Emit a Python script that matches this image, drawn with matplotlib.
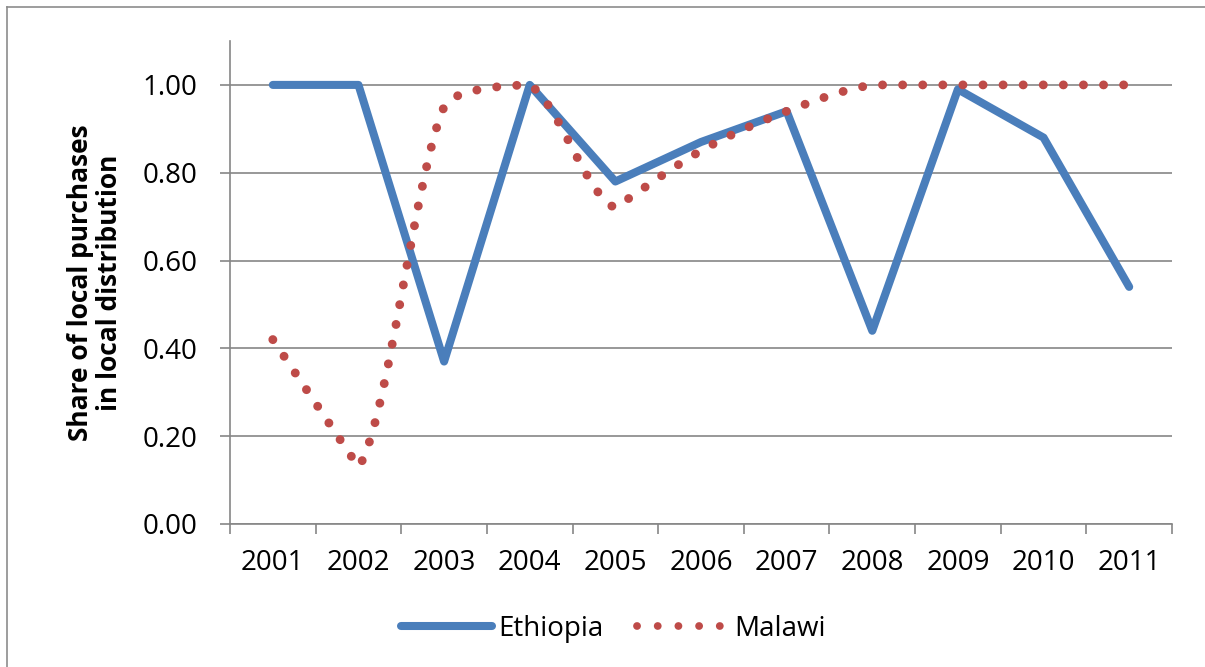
import matplotlib
matplotlib.use("Agg")
import matplotlib.pyplot as plt
from matplotlib.path import Path
from matplotlib.patches import PathPatch
from matplotlib.lines import Line2D

plt.rcParams['font.family'] = ['Open Sans', 'DejaVu Sans']

years = ['2001', '2002', '2003', '2004', '2005', '2006',
         '2007', '2008', '2009', '2010', '2011']
ethiopia = [1.00, 1.00, 0.37, 1.00, 0.78, 0.87, 0.94, 0.44, 0.99, 0.88, 0.54]
malawi = [0.42, 0.13, 0.95, 1.00, 0.72, 0.85, 0.94, 1.00, 1.00, 1.00, 1.00]
yticks = [0.0, 0.2, 0.4, 0.6, 0.8, 1.0]

blue = '#4A7EBB'
red = '#BE4B48'
grey = '#868686'
W, H = 1205, 667


def _limit(y, dy, lo, hi):
    # shrink a tangent so the control point stays inside the segment's range
    if dy == 0:
        return 1.0
    t = y + dy
    if t > hi:
        return (hi - y) / dy
    if t < lo:
        return (lo - y) / dy
    return 1.0


def smooth_path(xs, ys):
    n = len(xs)
    verts = [(xs[0], ys[0])]
    codes = [Path.MOVETO]
    for i in range(n - 1):
        i0 = max(i - 1, 0)
        i3 = min(i + 2, n - 1)
        lo, hi = min(ys[i], ys[i + 1]), max(ys[i], ys[i + 1])
        tx, ty = (xs[i + 1] - xs[i0]) / 6, (ys[i + 1] - ys[i0]) / 6
        s = _limit(ys[i], ty, lo, hi)
        c1 = (xs[i] + s * tx, ys[i] + s * ty)
        tx, ty = (xs[i3] - xs[i]) / 6, (ys[i3] - ys[i]) / 6
        s = _limit(ys[i + 1], -ty, lo, hi)
        c2 = (xs[i + 1] - s * tx, ys[i + 1] - s * ty)
        verts += [c1, c2, (xs[i + 1], ys[i + 1])]
        codes += [Path.CURVE4] * 3
    return Path(verts, codes)


fig = plt.figure(figsize=(W / 100, H / 100), dpi=100)
ax = fig.add_axes([230 / W, 1 - 524 / H, (1172 - 230) / W, (524 - 41) / H])

x = list(range(len(years)))
ax.plot(x, ethiopia, color=blue, lw=5.8, solid_capstyle='round',
        solid_joinstyle='round', zorder=3)

ax.add_patch(PathPatch(smooth_path(x, malawi), fill=False, edgecolor=red,
                       lw=6.4, linestyle=(0, (0.01, 2.25)), capstyle='round',
                       zorder=4))

ax.set_xlim(-0.5, len(years) - 0.5)
ax.set_ylim(0, 1.1)
ax.set_xticks(x)
ax.set_xticklabels(years)
ax.set_xticks([i - 0.5 for i in range(len(years) + 1)], minor=True)
ax.tick_params(axis='x', which='major', length=0, pad=18, labelsize=20)
ax.tick_params(axis='x', which='minor', length=7.2, width=1.2, color=grey)
ax.set_yticks(yticks)
ax.set_yticklabels(['%.2f' % v for v in yticks])
ax.tick_params(axis='y', length=7.2, width=1.2, color=grey, pad=16, labelsize=20)
ax.grid(axis='y', color=grey, lw=1.2)
ax.set_axisbelow(True)
for side in ('top', 'right'):
    ax.spines[side].set_visible(False)
for side in ('left', 'bottom'):
    ax.spines[side].set_color(grey)
    ax.spines[side].set_linewidth(1.2)

ax.set_ylabel('Share of local purchases\nin local distribution',
              fontsize=19, fontweight='bold', linespacing=1.1, labelpad=14)

handles = [
    Line2D([], [], color=blue, lw=5.8, solid_capstyle='round'),
    Line2D([], [], color=red, lw=5.6, linestyle=(0, (0.01, 2.65)),
           dash_capstyle='round'),
]
fig.legend(handles, ['Ethiopia', 'Malawi'], loc='center',
           bbox_to_anchor=(613 / W, 1 - 629 / H), ncol=2, frameon=False,
           fontsize=20, handlelength=3.3, handletextpad=0.2,
           columnspacing=1.2)

# thin chart-area border
fig.add_artist(Line2D([7 / W, 7 / W], [0, 1 - 7 / H], color='#8c8c8c',
                      lw=1.2, transform=fig.transFigure))
fig.add_artist(Line2D([7 / W, 1], [1 - 7 / H, 1 - 7 / H], color='#8c8c8c',
                      lw=1.2, transform=fig.transFigure))

fig.savefig('out.png', dpi=100)
